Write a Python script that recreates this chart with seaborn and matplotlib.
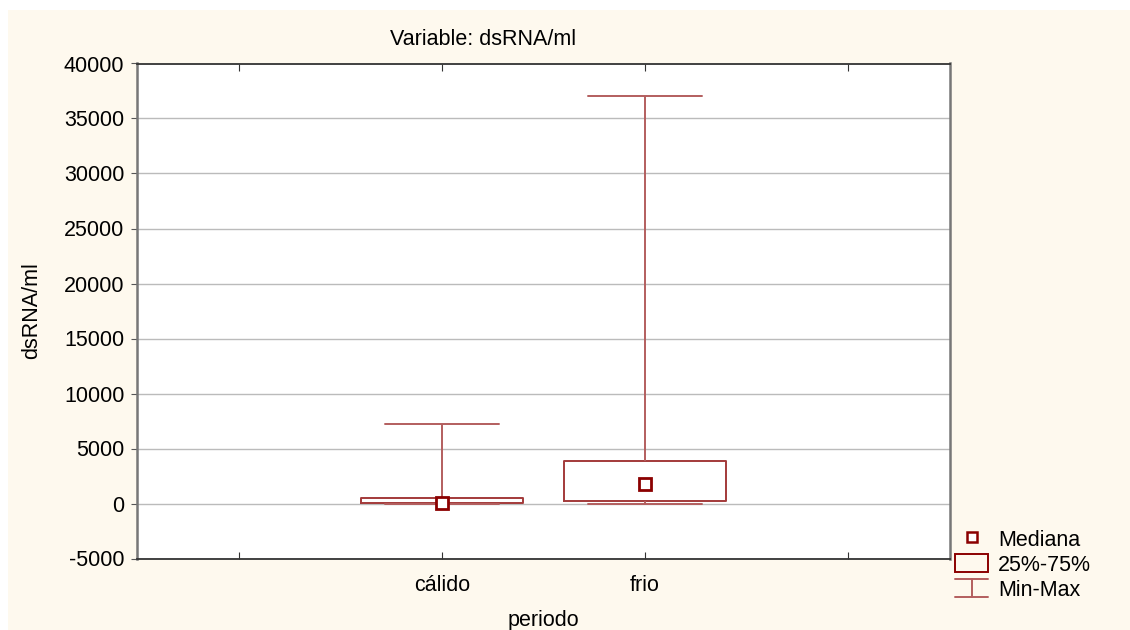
import matplotlib
matplotlib.use("Agg")
import matplotlib.pyplot as plt
import numpy as np
import pandas as pd
import seaborn as sns
from matplotlib.lines import Line2D
from matplotlib.patches import Patch, Rectangle
from matplotlib.legend_handler import HandlerBase

# Five-number summaries per period
categories = ["cálido", "frio"]
minimo = [0, 0]
q25 = [20, 230]
mediana = [60, 1800]
q75 = [470, 3890]
maximo = [7200, 37000]

# Category slots on the x axis (outer slots stay empty)
axis_slots = ["", "cálido", "frio", " "]
yticks = list(range(-5000, 40001, 5000))
legend_labels = ["Mediana", "25%-75%", "Min-Max"]

CREAM = "#FEF9EE"
BOX = "#A33A3A"
WHISK = "#B35E5E"
MED = "#8B0000"

# Long-form table: the five summary values reproduce the quartiles exactly
rows = []
for c, a, b, m, d, e in zip(categories, minimo, q25, mediana, q75, maximo):
    for v in (a, b, m, d, e):
        rows.append({"periodo": c, "dsRNA/ml": v})
df = pd.DataFrame(rows)

sns.set_style("white")
plt.rcParams["font.family"] = ["Liberation Sans", "DejaVu Sans"]
plt.rcParams["font.size"] = 15.5
plt.rcParams["axes.unicode_minus"] = False
plt.rcParams["text.color"] = "black"
plt.rcParams["axes.labelcolor"] = "black"
plt.rcParams["xtick.labelcolor"] = "black"
plt.rcParams["ytick.labelcolor"] = "black"

W, H = 1130, 630
fig = plt.figure(figsize=(W / 100, H / 100), dpi=100)
fig.patch.set_facecolor("white")
fig.add_artist(Rectangle((8 / W, 0), 1, 1 - 10 / H, transform=fig.transFigure,
                         facecolor=CREAM, edgecolor="none", zorder=-10))

ax = fig.add_axes([137 / W, 71.5 / H, 813 / W, 495 / H])
ax.set_facecolor("white")

sns.boxplot(data=df, x="periodo", y="dsRNA/ml", order=axis_slots,
            whis=(0, 100), width=0.8, fill=False, color=BOX, linewidth=1.4,
            showfliers=False, medianprops={"visible": False},
            whiskerprops={"color": WHISK, "linewidth": 1.4},
            capprops={"color": WHISK, "linewidth": 1.4},
            capwidths=0.56, ax=ax)

sns.pointplot(x=categories, y=mediana, order=axis_slots, linestyle="none",
              marker="s", errorbar=None, color=MED, markersize=8,
              markeredgewidth=2, ax=ax)
med_line = ax.lines[-1]
med_line.set_markerfacecolor("white")
med_line.set_markeredgecolor(MED)
med_line.set_zorder(6)

ax.set_xlim(-0.5, 3.5)
ax.set_ylim(-5000, 40000)
ax.set_yticks(yticks)
ax.set_yticklabels([str(t) for t in yticks])
ax.yaxis.grid(True, color="#BBBBBB", linewidth=1)
ax.xaxis.grid(False)
ax.set_axisbelow(True)

ax.tick_params(axis="x", direction="in", length=5, top=True, bottom=True,
               color="#333333", pad=12, labelsize=15.5)
ax.tick_params(axis="y", direction="out", length=4, left=True,
               color="#555555", pad=5, labelsize=15.5)

for side in ("left", "right"):
    ax.spines[side].set_color("#777777")
    ax.spines[side].set_linewidth(1.8)
for side in ("top", "bottom"):
    ax.spines[side].set_color("#333333")
    ax.spines[side].set_linewidth(1.3)

ax.set_xlabel("periodo")
ax.set_ylabel("dsRNA/ml")
ax.xaxis.set_label_coords(0.5, -0.104)
ax.yaxis.set_label_coords(-0.117, 0.5)

fig.text(483.5 / W, 1 - 45 / H, "Variable: dsRNA/ml", ha="center",
         va="baseline")


class WhiskerHandler(HandlerBase):
    def create_artists(self, legend, orig_handle, xdescent, ydescent,
                       width, height, fontsize, trans):
        x0, y0 = -xdescent, -ydescent
        kw = dict(color=orig_handle.get_color(),
                  linewidth=orig_handle.get_linewidth(), transform=trans)
        top = Line2D([x0, x0 + width], [y0 + height, y0 + height], **kw)
        bot = Line2D([x0, x0 + width], [y0, y0], **kw)
        mid = Line2D([x0 + width / 2] * 2, [y0, y0 + height], **kw)
        return [top, mid, bot]


h_med = Line2D([], [], marker="s", linestyle="none", markerfacecolor="white",
               markeredgecolor=MED, markersize=7, markeredgewidth=1.8)
h_box = Patch(facecolor="none", edgecolor=MED, linewidth=1.4)
h_whisk = Line2D([], [], color=WHISK, linewidth=1.4)

fig.legend([h_med, h_box, h_whisk], legend_labels, loc="upper left",
           bbox_to_anchor=(955 / W, 1 - 529 / H), frameon=False,
           handlelength=1.55, handleheight=0.93, handletextpad=0.45,
           labelspacing=0.16, borderpad=0, borderaxespad=0,
           handler_map={h_whisk: WhiskerHandler()}, fontsize=15.5)

fig.savefig("out.png", dpi=100)
